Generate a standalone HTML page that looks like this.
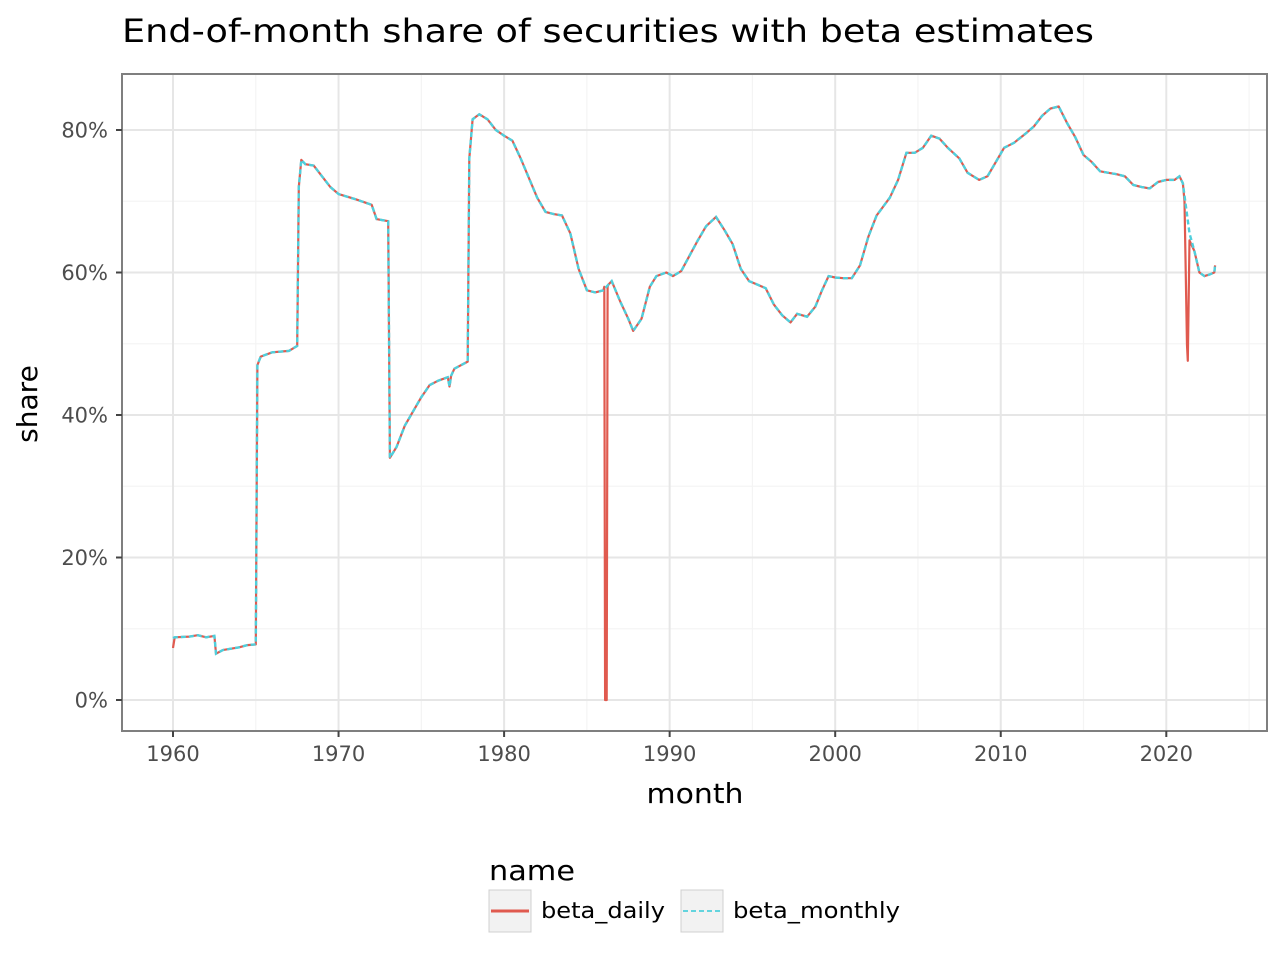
<!DOCTYPE html>
<html><head><meta charset="utf-8">
<style>
body{margin:0;background:#fff;}
svg{display:block;font-family:"DejaVu Sans","Liberation Sans",sans-serif;}
</style></head>
<body>
<svg id="chart" width="1280" height="960" viewBox="0 0 1280 960">
<text x="122" y="42" font-size="32" fill="#000" textLength="972" lengthAdjust="spacingAndGlyphs">End-of-month share of securities with beta estimates</text>
<rect x="122" y="74" width="1145" height="657" fill="#fff"/>
<g id="grid"></g>
<g id="series"></g>
<rect x="122" y="74" width="1145" height="657" fill="none" stroke="#7f7f7f" stroke-width="2"/>
<g id="axes"></g>
<text x="695" y="803" font-size="28" text-anchor="middle" textLength="97" lengthAdjust="spacingAndGlyphs">month</text>
<text transform="translate(37,404) rotate(-90)" font-size="28" text-anchor="middle">share</text>
<g>
<text x="489" y="880" font-size="28" textLength="86" lengthAdjust="spacingAndGlyphs">name</text>
<g>
<rect x="489" y="890" width="42" height="42" fill="#f2f2f2" stroke="#d0d0d0"/>
<line x1="491" y1="911" x2="529" y2="911" stroke="#E05A4F" stroke-width="3"/>
<text x="541" y="918" font-size="22" textLength="124" lengthAdjust="spacingAndGlyphs">beta_daily</text>
</g>
<g>
<rect x="681" y="890" width="42" height="42" fill="#f2f2f2" stroke="#d0d0d0"/>
<line x1="683" y1="911" x2="721" y2="911" stroke="#4FCFDC" stroke-width="1.8" stroke-dasharray="5,3"/>
<text x="733" y="918" font-size="22" textLength="167" lengthAdjust="spacingAndGlyphs">beta_monthly</text>
</g>
</g>
</svg>
<script>
const xTicks=[1960,1970,1980,1990,2000,2010,2020];
const yTicks=[0,20,40,60,80];
const yTickLabels=["0%","20%","40%","60%","80%"];
const monthlyYears=[1960,1960.1,1961,1961.5,1962,1962.5,1962.6,1963,1964,1964.5,1965,1965.1,1965.3,1966,1967,1967.5,1967.6,1967.75,1968,1968.5,1969,1969.5,1970,1971,1972,1972.3,1973,1973.1,1973.5,1974,1975,1975.5,1976,1976.6,1976.7,1976.8,1977,1977.8,1977.9,1978.1,1978.5,1979,1979.5,1980,1980.5,1981,1982,1982.5,1983,1983.5,1984,1984.5,1985,1985.5,1986,1986.3,1986.5,1987,1987.5,1987.8,1988.3,1988.8,1989.2,1989.8,1990.2,1990.7,1991,1991.7,1992.2,1992.8,1993.3,1993.8,1994.3,1994.8,1995.3,1995.8,1996.3,1996.8,1997.3,1997.7,1998.3,1998.8,1999.2,1999.6,2000,2000.5,2001,2001.5,2002,2002.5,2003.3,2003.8,2004.3,2004.8,2005.3,2005.8,2006.3,2006.8,2007.5,2008,2008.7,2009.2,2009.7,2010.2,2010.8,2011.5,2012,2012.5,2013,2013.5,2014,2014.5,2015,2015.5,2016,2016.5,2017,2017.5,2018,2018.5,2019,2019.5,2020,2020.5,2020.8,2021,2021.2,2021.4,2021.7,2022,2022.3,2022.6,2022.9,2022.95];
const monthlyValues=[8.7,8.8,8.9,9.1,8.8,9.0,6.5,7.0,7.4,7.7,7.8,47.0,48.2,48.8,49.0,49.7,72,75.8,75.2,75,73.5,72,71,70.3,69.5,67.5,67.2,34,35.5,38.5,42.5,44.2,44.8,45.3,44,45.5,46.5,47.5,76,81.5,82.2,81.5,80,79.2,78.5,76,70.5,68.5,68.2,68,65.5,60.5,57.5,57.2,57.5,58.3,58.8,56,53.5,51.8,53.5,58,59.5,60,59.5,60.2,61.5,64.5,66.5,67.8,66,64,60.5,58.8,58.3,57.8,55.5,54,53,54.2,53.8,55.2,57.5,59.5,59.3,59.2,59.2,61,65,68,70.5,73,76.8,76.8,77.5,79.2,78.8,77.5,76,74,73,73.5,75.5,77.5,78.2,79.5,80.5,82,83,83.3,81,79,76.5,75.5,74.2,74,73.8,73.5,72.3,72,71.8,72.7,73,73,73.5,72.5,69,65.5,63,60,59.5,59.7,60,61];
const dailyYears=[1960,1960.1,1961,1961.5,1962,1962.5,1962.6,1963,1964,1964.5,1965,1965.1,1965.3,1966,1967,1967.5,1967.6,1967.75,1968,1968.5,1969,1969.5,1970,1971,1972,1972.3,1973,1973.1,1973.5,1974,1975,1975.5,1976,1976.6,1976.7,1976.8,1977,1977.8,1977.9,1978.1,1978.5,1979,1979.5,1980,1980.5,1981,1982,1982.5,1983,1983.5,1984,1984.5,1985,1985.5,1986,1986.05,1986.1,1986.2,1986.25,1986.3,1986.5,1987,1987.5,1987.8,1988.3,1988.8,1989.2,1989.8,1990.2,1990.7,1991,1991.7,1992.2,1992.8,1993.3,1993.8,1994.3,1994.8,1995.3,1995.8,1996.3,1996.8,1997.3,1997.7,1998.3,1998.8,1999.2,1999.6,2000,2000.5,2001,2001.5,2002,2002.5,2003.3,2003.8,2004.3,2004.8,2005.3,2005.8,2006.3,2006.8,2007.5,2008,2008.7,2009.2,2009.7,2010.2,2010.8,2011.5,2012,2012.5,2013,2013.5,2014,2014.5,2015,2015.5,2016,2016.5,2017,2017.5,2018,2018.5,2019,2019.5,2020,2020.5,2020.8,2021,2021.1,2021.25,2021.3,2021.4,2021.7,2022,2022.3,2022.6,2022.9,2022.95];
const dailyValues=[7.3,8.8,8.9,9.1,8.8,9.0,6.5,7.0,7.4,7.7,7.8,47.0,48.2,48.8,49.0,49.7,72,75.8,75.2,75,73.5,72,71,70.3,69.5,67.5,67.2,34,35.5,38.5,42.5,44.2,44.8,45.3,44,45.5,46.5,47.5,76,81.5,82.2,81.5,80,79.2,78.5,76,70.5,68.5,68.2,68,65.5,60.5,57.5,57.2,57.5,58,0,0,58,58.3,58.8,56,53.5,51.8,53.5,58,59.5,60,59.5,60.2,61.5,64.5,66.5,67.8,66,64,60.5,58.8,58.3,57.8,55.5,54,53,54.2,53.8,55.2,57.5,59.5,59.3,59.2,59.2,61,65,68,70.5,73,76.8,76.8,77.5,79.2,78.8,77.5,76,74,73,73.5,75.5,77.5,78.2,79.5,80.5,82,83,83.3,81,79,76.5,75.5,74.2,74,73.8,73.5,72.3,72,71.8,72.7,73,73,73.5,72.5,70,49.8,47.6,64.5,63,60,59.5,59.7,60,61];

const NS="http://www.w3.org/2000/svg";
const xs=y=>173+(y-1960)*16.555;
const ys=v=>700-v*7.125;
function mk(tag,attrs,parent){const e=document.createElementNS(NS,tag);for(const k in attrs)e.setAttribute(k,attrs[k]);parent.appendChild(e);return e;}
const grid=document.getElementById('grid'),axes=document.getElementById('axes'),series=document.getElementById('series');
for(let i=0;i<xTicks.length;i++){
  const m=mk('line',{x1:xs(xTicks[i]+5),x2:xs(xTicks[i]+5),y1:74,y2:731,stroke:'#f4f4f4','stroke-width':1.2},grid);
  
  
}
for(let i=0;i<yTicks.length-1;i++){
  const m=mk('line',{x1:122,x2:1267,y1:ys(yTicks[i]+10),y2:ys(yTicks[i]+10),stroke:'#f4f4f4','stroke-width':1.2},grid);
  
  
}
xTicks.forEach(t=>{
  const g=mk('line',{x1:xs(t),x2:xs(t),y1:74,y2:731,stroke:'#e6e6e6','stroke-width':2},grid);
  
  
  const tk=mk('line',{x1:xs(t),x2:xs(t),y1:731,y2:737,stroke:'#444','stroke-width':2},axes);
  
  
  const tx=mk('text',{x:xs(t),y:761,'font-size':21,'text-anchor':'middle',fill:'#4d4d4d'},axes);
  tx.textContent=t;
  
  
});
yTicks.forEach((t,i)=>{
  const g=mk('line',{x1:122,x2:1267,y1:ys(t),y2:ys(t),stroke:'#e6e6e6','stroke-width':2},grid);
  
  
  const tk=mk('line',{x1:116,x2:122,y1:ys(t),y2:ys(t),stroke:'#444','stroke-width':2},axes);
  
  
  const tx=mk('text',{x:108,y:ys(t)+7.5,'font-size':21,'text-anchor':'end',fill:'#4d4d4d'},axes);
  tx.textContent=yTickLabels[i];
  
  
});
function path(yrs,vals){return yrs.map((y,i)=>(i?'L':'M')+xs(y).toFixed(1)+','+ys(vals[i]).toFixed(1)).join(' ');}
const pd=mk('path',{d:path(dailyYears,dailyValues),fill:'none',stroke:'#E05A4F','stroke-width':2.2,'stroke-linejoin':'round'},series);


const pm=mk('path',{d:path(monthlyYears,monthlyValues),fill:'none',stroke:'#4FCFDC','stroke-width':2.4,'stroke-dasharray':'5,3'},series);


</script>
</body></html>
